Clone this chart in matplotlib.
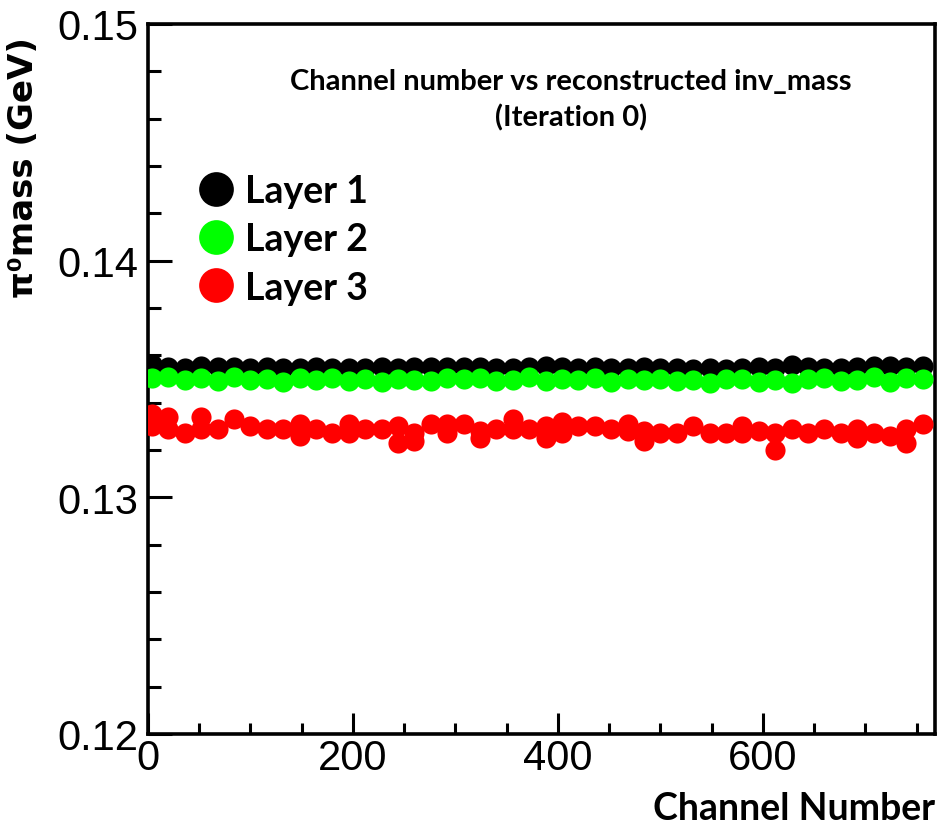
import numpy as np
import matplotlib
matplotlib.use('Agg')
import matplotlib.pyplot as plt
from matplotlib.ticker import MultipleLocator
from matplotlib.lines import Line2D

# channel positions shared by the three layers
channels = [4 + 16 * i for i in range(48)]

layer1_mass = [
    0.13562, 0.13552, 0.13548, 0.13553, 0.13551, 0.13549, 0.13547, 0.13550,
    0.13548, 0.13546, 0.13549, 0.13547, 0.13545, 0.13548, 0.13550, 0.13546,
    0.13549, 0.13551, 0.13549, 0.13552, 0.13550, 0.13548, 0.13546, 0.13549,
    0.13554, 0.13552, 0.13547, 0.13550, 0.13548, 0.13546, 0.13549, 0.13545,
    0.13548, 0.13541, 0.13546, 0.13544, 0.13548, 0.13551, 0.13546, 0.13558,
    0.13552, 0.13548, 0.13546, 0.13549, 0.13554, 0.13556, 0.13550, 0.13553,
]

layer2_mass = [
    0.13505, 0.13510, 0.13496, 0.13504, 0.13490, 0.13508, 0.13495, 0.13500,
    0.13489, 0.13503, 0.13497, 0.13506, 0.13492, 0.13499, 0.13486, 0.13502,
    0.13495, 0.13491, 0.13505, 0.13498, 0.13503, 0.13490, 0.13497, 0.13507,
    0.13493, 0.13500, 0.13496, 0.13504, 0.13487, 0.13499, 0.13494, 0.13502,
    0.13491, 0.13497, 0.13484, 0.13498, 0.13502, 0.13489, 0.13496, 0.13485,
    0.13499, 0.13504, 0.13492, 0.13497, 0.13510, 0.13488, 0.13503, 0.13498,
]

layer3_mass = [
    0.13350, 0.13340, 0.13270, 0.13340, 0.13290, 0.13330, 0.13300, 0.13290,
    0.13290, 0.13310, 0.13290, 0.13270, 0.13310, 0.13290, 0.13290, 0.13300,
    0.13270, 0.13310, 0.13310, 0.13310, 0.13280, 0.13290, 0.13330, 0.13290,
    0.13300, 0.13320, 0.13300, 0.13300, 0.13290, 0.13310, 0.13280, 0.13270,
    0.13270, 0.13300, 0.13270, 0.13270, 0.13300, 0.13280, 0.13270, 0.13290,
    0.13270, 0.13290, 0.13270, 0.13290, 0.13270, 0.13260, 0.13290, 0.13310,
]

# channels of layer 3 that have a second entry
layer3_extra_idx = [0, 1, 3, 9, 12, 15, 16, 18, 20, 22, 24, 25, 29, 30, 36, 38, 43, 46]
layer3_extra_mass = [
    0.13300, 0.13290, 0.13290, 0.13260, 0.13270, 0.13230, 0.13240, 0.13270,
    0.13250, 0.13290, 0.13250, 0.13270, 0.13280, 0.13240, 0.13270, 0.13200,
    0.13250, 0.13230,
]

layer_names = ['Layer 1', 'Layer 2', 'Layer 3']
layer_colors = ['black', '#00ff00', '#ff0000']

W, H = 939, 828
fig = plt.figure(figsize=(W / 100, H / 100), dpi=100)
ax = fig.add_axes([148 / W, 1 - 735 / H, 787 / W, 710 / H])

ms = 14.5
ax.plot(channels, layer1_mass, 'o', color=layer_colors[0], ms=ms, mec='none', zorder=3)
ax.plot(channels, layer2_mass, 'o', color=layer_colors[1], ms=ms, mec='none', zorder=4)
ax.plot(channels, layer3_mass, 'o', color=layer_colors[2], ms=ms, mec='none', zorder=3)
ax.plot([channels[i] for i in layer3_extra_idx], layer3_extra_mass, 'o',
        color=layer_colors[2], ms=ms, mec='none', zorder=3)

ax.set_xlim(0, 768)
ax.set_ylim(0.12, 0.15)

for s in ax.spines.values():
    s.set_linewidth(2.6)

ax.xaxis.set_major_locator(MultipleLocator(200))
ax.xaxis.set_minor_locator(MultipleLocator(50))
ax.yaxis.set_major_locator(MultipleLocator(0.01))
ax.yaxis.set_minor_locator(MultipleLocator(0.002))
ax.tick_params(axis='both', which='both', direction='in', width=2.2)
ax.tick_params(axis='x', which='major', length=15, pad=3)
ax.tick_params(axis='x', which='minor', length=8)
ax.tick_params(axis='y', which='major', length=17, pad=7)
ax.tick_params(axis='y', which='minor', length=9)
ax.set_xticks([0, 200, 400, 600])
ax.set_yticks([0.12, 0.13, 0.14, 0.15])
ax.set_xticklabels(['0', '200', '400', '600'])
ax.set_yticklabels(['0.12', '0.13', '0.14', '0.15'])
for lab in ax.get_xticklabels() + ax.get_yticklabels():
    lab.set_fontfamily('Liberation Sans')
    lab.set_fontsize(30)

bold = dict(family=['Lato', 'DejaVu Sans'], fontweight='bold')

fig.text(571 / W, 1 - 82 / H, 'Channel number vs reconstructed inv_mass',
         ha='center', va='center', fontsize=21, **bold)
fig.text(571 / W, 1 - 118 / H, '(Iteration 0)',
         ha='center', va='center', fontsize=21, **bold)

fig.text(935 / W, 1 - 820 / H, 'Channel Number', ha='right', va='baseline',
         fontsize=27, **bold)
fig.text(24 / W, 1 - 168 / H, 'π⁰mass (GeV)', ha='center', va='center',
         rotation=90, fontsize=24.5, family=['DejaVu Sans'], fontweight='bold')

handles = [Line2D([], [], ls='none', marker='o', color=c, ms=25, mec='none')
           for c in layer_colors]
leg = ax.legend(handles, layer_names, loc='upper left',
                bbox_to_anchor=(198 / W, 1 - 175 / H), bbox_transform=fig.transFigure,
                frameon=False, borderpad=0, borderaxespad=0, handlelength=0.95,
                handletextpad=0.3, labelspacing=0.38,
                prop={'family': ['Lato', 'DejaVu Sans'], 'weight': 'bold', 'size': 27})

fig.savefig('out.png', dpi=100)
